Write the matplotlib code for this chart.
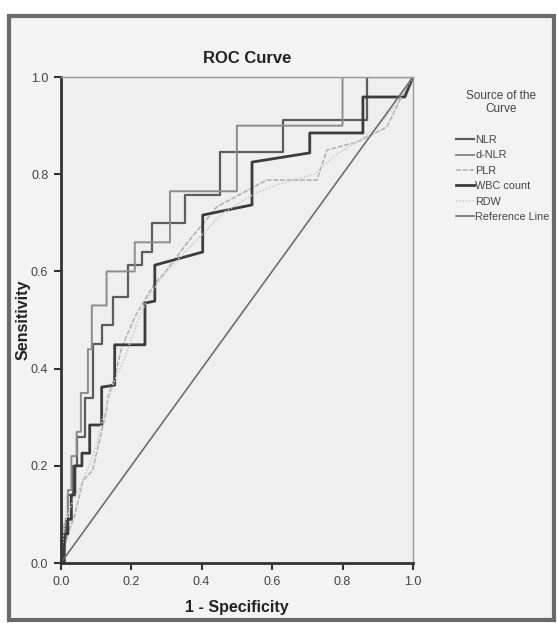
import matplotlib.pyplot as plt
from matplotlib.patches import Rectangle

plt.rcParams['font.family'] = ['Liberation Sans', 'DejaVu Sans']

# ROC curves (1 - specificity, sensitivity)
nlrX = [0, 0.005, 0.005, 0.015, 0.015, 0.02, 0.02, 0.035, 0.035, 0.045, 0.045, 0.07, 0.07, 0.09, 0.09,
        0.116, 0.116, 0.148, 0.148, 0.19, 0.19, 0.23, 0.23, 0.258, 0.258, 0.352, 0.352, 0.452, 0.452,
        0.63, 0.63, 0.87, 0.87, 1.0]
nlrY = [0, 0, 0.05, 0.05, 0.09, 0.09, 0.14, 0.14, 0.2, 0.2, 0.26, 0.26, 0.34, 0.34, 0.45,
        0.45, 0.49, 0.49, 0.547, 0.547, 0.613, 0.613, 0.64, 0.64, 0.70, 0.70, 0.757, 0.757, 0.846,
        0.846, 0.912, 0.912, 1.0, 1.0]

dnlrX = [0, 0.01, 0.01, 0.02, 0.02, 0.03, 0.03, 0.045, 0.045, 0.057, 0.057, 0.077, 0.077, 0.088, 0.088,
         0.13, 0.13, 0.21, 0.21, 0.31, 0.31, 0.50, 0.50, 0.80, 0.80, 1.0]
dnlrY = [0, 0.04, 0.08, 0.08, 0.15, 0.15, 0.22, 0.22, 0.27, 0.27, 0.35, 0.35, 0.44, 0.44, 0.53,
         0.53, 0.6, 0.6, 0.66, 0.66, 0.765, 0.765, 0.90, 0.90, 1.0, 1.0]

plrX = [0, 0.02, 0.04, 0.063, 0.09, 0.13, 0.134, 0.153, 0.173, 0.21, 0.267, 0.295, 0.358, 0.443,
        0.585, 0.727, 0.756, 0.84, 0.926, 0.963, 1.0]
plrY = [0, 0.06, 0.10, 0.17, 0.19, 0.315, 0.342, 0.383, 0.444, 0.506, 0.576, 0.597, 0.658, 0.733,
        0.788, 0.788, 0.85, 0.866, 0.897, 0.953, 1.0]

wbcX = [0, 0.01, 0.01, 0.02, 0.02, 0.03, 0.03, 0.04, 0.04, 0.06, 0.06, 0.082, 0.082, 0.116, 0.116,
        0.153, 0.153, 0.239, 0.239, 0.267, 0.267, 0.403, 0.403, 0.543, 0.543, 0.707, 0.707, 0.858,
        0.858, 0.977, 1.0]
wbcY = [0, 0, 0.06, 0.06, 0.09, 0.09, 0.14, 0.14, 0.2, 0.2, 0.226, 0.226, 0.284, 0.284, 0.362,
        0.366, 0.449, 0.449, 0.535, 0.539, 0.613, 0.640, 0.716, 0.737, 0.825, 0.844, 0.885, 0.885,
        0.959, 0.959, 1.0]

rdwX = [0, 0.01, 0.03, 0.05, 0.08, 0.1, 0.12, 0.15, 0.18, 0.22, 0.25, 0.3, 0.38, 0.46, 0.55, 0.62,
        0.72, 0.78, 0.85, 0.9, 0.95, 1.0]
rdwY = [0, 0.08, 0.12, 0.15, 0.2, 0.24, 0.3, 0.37, 0.42, 0.5, 0.55, 0.6, 0.66, 0.72, 0.76, 0.78,
        0.8, 0.84, 0.87, 0.9, 0.94, 1.0]

refX = [0, 1]
refY = [0, 1]

ticks = [0.0, 0.2, 0.4, 0.6, 0.8, 1.0]
tickLabels = ["0.0", "0.2", "0.4", "0.6", "0.8", "1.0"]

fig = plt.figure(figsize=(5.58, 6.23), dpi=100, facecolor="white")
fig.patches.append(Rectangle((0.016, 0.005), 0.976, 0.97, transform=fig.transFigure,
                             facecolor="#f3f3f3", edgecolor="#6a6a6a", linewidth=3, zorder=-10))
ax = fig.add_axes([0.109, 0.0963, 0.631, 0.78], facecolor="#efefef")

ax.plot(nlrX, nlrY, color="#5c5c5c", lw=1.6, label="NLR")
ax.plot(dnlrX, dnlrY, color="#8c8c8c", lw=1.4, label="d-NLR")
ax.plot(plrX, plrY, color="#b4b4b4", lw=1.2, ls=(0, (3, 1)), label="PLR")
ax.plot(wbcX, wbcY, color="#3c3c3c", lw=2.0, label="WBC count")
ax.plot(rdwX, rdwY, color="#cfcfcf", lw=1.2, ls=(0, (1, 1)), label="RDW")
ax.plot(refX, refY, color="#6e6e6e", lw=1.2, label="Reference Line")

ax.set_xlim(0, 1)
ax.set_ylim(0, 1)
ax.set_xticks(ticks)
ax.set_xticklabels(tickLabels)
ax.set_yticks(ticks)
ax.set_yticklabels(tickLabels)
ax.tick_params(direction="out", length=5, width=1.5, pad=4, labelsize=9,
               labelcolor="#444444", color="#333333")
for s in ["left", "bottom"]:
    ax.spines[s].set_linewidth(2)
    ax.spines[s].set_color("#333333")
for s in ["top", "right"]:
    ax.spines[s].set_linewidth(1)
    ax.spines[s].set_color("#999999")

ax.set_title("ROC Curve", fontsize=12, fontweight="bold", color="#222222", pad=10, x=0.528)
ax.set_xlabel("1 - Specificity", fontsize=11.5, fontweight="bold", color="#222222", labelpad=9)
ax.set_ylabel("Sensitivity", fontsize=11.5, fontweight="bold", color="#222222")
ax.yaxis.set_label_coords(-0.085, 0.5)

fig.text(0.898, 0.835, "Source of the\nCurve", ha="center", va="center", ma="center",
         fontsize=8.5, color="#444444", linespacing=1.1)
fig.legend(loc="upper left", bbox_to_anchor=(0.808, 0.792), frameon=False,
           fontsize=7.8, handlelength=1.6, handletextpad=0.15, labelspacing=0.5,
           labelcolor="#444444", borderpad=0)

fig.savefig("out.png", dpi=100, facecolor=fig.get_facecolor())
